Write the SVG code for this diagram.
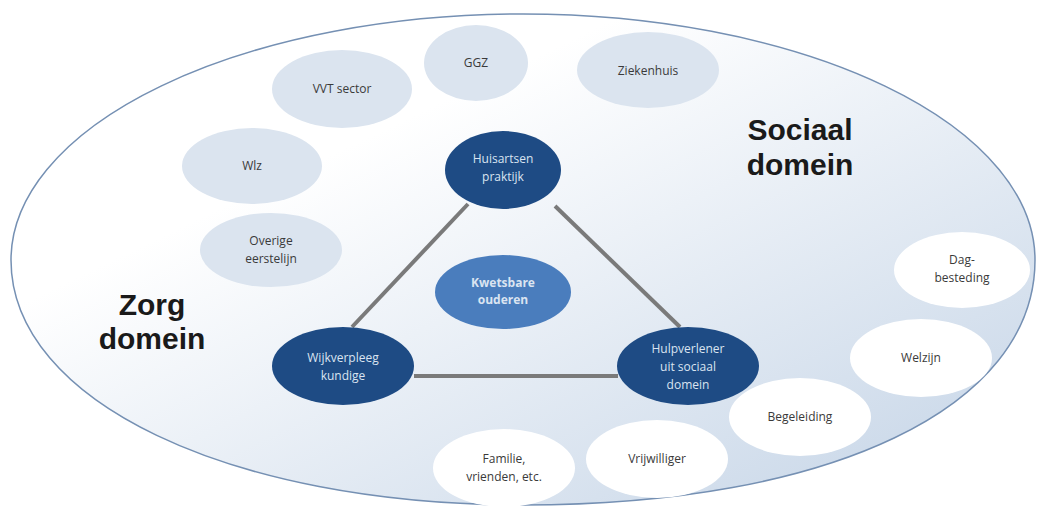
<svg xmlns="http://www.w3.org/2000/svg" width="1037" height="511" viewBox="0 0 1037 511">
<defs>
<linearGradient id="bg" x1="0" y1="0" x2="1" y2="1">
<stop offset="0.3" stop-color="#ffffff"/>
<stop offset="1" stop-color="#c3d3e6"/>
</linearGradient>
<style>
.lt{font-family:"Open Sans","Liberation Sans",sans-serif;font-size:12px;fill:#3a3a3a;text-anchor:middle}
.dk{font-family:"Open Sans","Liberation Sans",sans-serif;font-size:12px;fill:#dae4f1;text-anchor:middle}
.big{font-family:"Liberation Sans",Arial,sans-serif;font-size:30px;font-weight:bold;fill:#1a1a1a;text-anchor:middle}
.pale{fill:#dbe4ef}
.white{fill:#ffffff}
.dark{fill:#1e4b84}
.mid{fill:#4a7dbd}
.conn{stroke:#7a7a7a;stroke-width:4;fill:none}
</style>
</defs>
<rect width="1037" height="511" fill="#ffffff"/>
<path id="outer" d="M 11 260 A 512 246 0 0 1 1035 260 C 1035 408 830 505 523 505 C 229 505 11 401 11 260 Z" fill="url(#bg)" stroke="#7590b3" stroke-width="1.5"/>
<g id="labels">
<text class="big" x="800" y="140">Sociaal</text>
<text class="big" x="800" y="175">domein</text>
<text class="big" x="152" y="315">Zorg</text>
<text class="big" x="152" y="349">domein</text>
</g>
<g id="connectors">
<line class="conn" x1="468" y1="204" x2="352" y2="327"/>
<line class="conn" x1="555" y1="206" x2="680" y2="327"/>
<line class="conn" x1="414" y1="376" x2="618" y2="376"/>
</g>
<g id="vvt"><ellipse class="pale" cx="342" cy="89" rx="70" ry="39"/><text class="lt" x="342" y="93">VVT sector</text></g>
<g id="ggz"><ellipse class="pale" cx="476" cy="63" rx="52" ry="38"/><text class="lt" x="476" y="67">GGZ</text></g>
<g id="ziekenhuis"><ellipse class="pale" cx="648" cy="70" rx="71" ry="38"/><text class="lt" x="648" y="75">Ziekenhuis</text></g>
<g id="wlz"><ellipse class="pale" cx="252" cy="166" rx="70" ry="38"/><text class="lt" x="252" y="170">Wlz</text></g>
<g id="overige"><ellipse class="pale" cx="271" cy="250" rx="71" ry="37"/><text class="lt" x="271" y="245">Overige</text><text class="lt" x="271" y="263">eerstelijn</text></g>
<g id="huisartsen"><ellipse class="dark" cx="503" cy="170" rx="58" ry="39"/><text class="dk" x="503" y="163">Huisartsen</text><text class="dk" x="503" y="181">praktijk</text></g>
<g id="kwetsbare"><ellipse class="mid" cx="503" cy="292" rx="68" ry="37"/><text class="dk" x="503" y="287" font-weight="bold" font-size="11">Kwetsbare</text><text class="dk" x="503" y="304" font-weight="bold" font-size="11">ouderen</text></g>
<g id="wijk"><ellipse class="dark" cx="343" cy="366" rx="71" ry="39"/><text class="dk" x="343" y="362">Wijkverpleeg</text><text class="dk" x="343" y="380">kundige</text></g>
<g id="hulp"><ellipse class="dark" cx="688" cy="366" rx="71" ry="39"/><text class="dk" x="688" y="353">Hulpverlener</text><text class="dk" x="688" y="371">uit sociaal</text><text class="dk" x="688" y="389">domein</text></g>
<g id="dag"><ellipse class="white" cx="962" cy="270" rx="68" ry="38"/><text class="lt" x="962" y="264">Dag-</text><text class="lt" x="962" y="282">besteding</text></g>
<g id="welzijn"><ellipse class="white" cx="921" cy="358" rx="71" ry="39"/><text class="lt" x="921" y="362">Welzijn</text></g>
<g id="begeleiding"><ellipse class="white" cx="800" cy="417" rx="71" ry="39"/><text class="lt" x="800" y="421">Begeleiding</text></g>
<g id="vrijwilliger"><ellipse class="white" cx="657" cy="459" rx="71" ry="39"/><text class="lt" x="657" y="463">Vrijwilliger</text></g>
<g id="familie"><ellipse class="white" cx="504" cy="468" rx="71" ry="39"/><text class="lt" x="504" y="463">Familie,</text><text class="lt" x="504" y="481">vrienden, etc.</text></g>
</svg>
